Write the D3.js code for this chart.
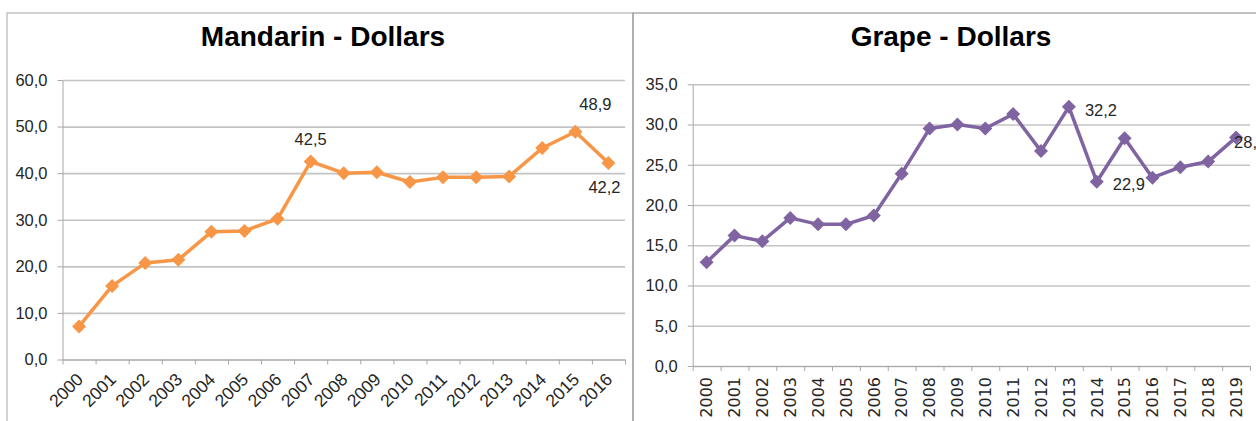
<!DOCTYPE html>
<html>
<head>
<meta charset="utf-8">
<script src="https://cdn.jsdelivr.net/npm/d3@7"></script>
<style>
    body { margin: 0; background: #fff; }
</style>
</head>
<body>
<script>
// chart values
const mandarinYears = ["2000", "2001", "2002", "2003", "2004", "2005", "2006", "2007", "2008",
    "2009", "2010", "2011", "2012", "2013", "2014", "2015", "2016"];
const mandarinValues = [7.1, 15.8, 20.7, 21.4, 27.4, 27.6, 30.2, 42.5, 40.0, 40.2, 38.1, 39.1,
    39.1, 39.3, 45.4, 48.9, 42.2];
const mandarinTicks = [0, 10, 20, 30, 40, 50, 60];
const mandarinLabels = [
    { year: "2007", place: "above" },
    { year: "2015", place: "aboveRight" },
    { year: "2016", place: "below" }
];

const grapeYears = ["2000", "2001", "2002", "2003", "2004", "2005", "2006", "2007", "2008", "2009",
    "2010", "2011", "2012", "2013", "2014", "2015", "2016", "2017", "2018", "2019"];
const grapeValues = [12.9, 16.2, 15.5, 18.4, 17.6, 17.6, 18.7, 23.9, 29.5, 30.0, 29.5, 31.3,
    26.7, 32.2, 22.9, 28.3, 23.4, 24.7, 25.4, 28.4];
const grapeTicks = [0, 5, 10, 15, 20, 25, 30, 35];
const grapeLabels = [
    { year: "2013", place: "right" },
    { year: "2014", place: "right" },
    { year: "2019", place: "onPoint" }
];

const width = 1256;
const height = 421;
const font = "'Liberation Sans', Arial, sans-serif";
const textColor = "#262626";

let svg = d3
    .select("body")
    .append("svg")
    .attr("width", width)
    .attr("height", height);

// chart frames (they run past the bottom/right of the picture)
svg.append("rect")
    .attr("x", 7).attr("y", 13)
    .attr("width", 626).attr("height", 440)
    .attr("fill", "none")
    .attr("stroke", "#b4b4b4")
    .attr("stroke-width", 1.2);

svg.append("rect")
    .attr("x", 633).attr("y", 13)
    .attr("width", 700).attr("height", 440)
    .attr("fill", "none")
    .attr("stroke", "#9a9a9a")
    .attr("stroke-width", 1.2);

let commaFormat = d => d3.format(".1f")(d).replace(".", ",");

// where a value label sits relative to its point
let labelOffsets = {
    above: { dx: 0, dy: -22, anchor: "middle" },
    aboveRight: { dx: 20, dy: -27, anchor: "middle" },
    below: { dx: -4, dy: 24, anchor: "middle" },
    right: { dx: 16, dy: 3, anchor: "start" },
    onPoint: { dx: -2, dy: 5, anchor: "start" }
};

function drawChart(cfg) {
    let g = svg.append("g");
    let m = cfg.margin;

    let xScale = d3.scaleBand()
        .domain(cfg.years)
        .range([m.left, m.right]);

    // used only for the tick marks between the categories
    let edgeScale = d3.scaleLinear()
        .domain([0, cfg.years.length])
        .range([m.left, m.right]);

    let yScale = d3.scaleLinear()
        .domain([0, d3.max(cfg.ticks)])
        .range([m.bottom, m.top]);

    let cx = d => xScale(d) + xScale.bandwidth() / 2;

    // gridlines
    let grid = g.append("g")
        .attr("transform", `translate(${m.left}, 0)`)
        .call(d3.axisLeft(yScale)
            .tickValues(cfg.ticks)
            .tickSize(-(m.right - m.left))
            .tickFormat(""));
    grid.select(".domain").remove();
    grid.selectAll("line")
        .attr("stroke", "#c4c4c4")
        .attr("stroke-width", 1.6);

    // left axis with labels
    let leftAxis = g.append("g")
        .attr("transform", `translate(${m.left}, 0)`)
        .call(d3.axisLeft(yScale)
            .tickValues(cfg.ticks)
            .tickSize(5)
            .tickSizeOuter(0)
            .tickPadding(10)
            .tickFormat(commaFormat));
    leftAxis.select(".domain").attr("stroke", "#a8a8a8");
    leftAxis.selectAll("line").attr("stroke", "#a8a8a8");
    leftAxis.selectAll("text")
        .attr("font-family", font)
        .attr("font-size", 16.5)
        .attr("fill", textColor);

    // tick marks at category edges
    let edgeAxis = g.append("g")
        .attr("transform", `translate(0, ${m.bottom})`)
        .call(d3.axisBottom(edgeScale)
            .tickValues(d3.range(cfg.years.length + 1))
            .tickSize(5)
            .tickSizeOuter(0)
            .tickFormat(""));
    edgeAxis.select(".domain").attr("stroke", "#a8a8a8");
    edgeAxis.selectAll("line").attr("stroke", "#a8a8a8");

    // category labels
    let bottomAxis = g.append("g")
        .attr("transform", `translate(0, ${m.bottom})`)
        .call(d3.axisBottom(xScale).tickSize(0));
    bottomAxis.select(".domain").remove();
    let yearText = bottomAxis.selectAll("text")
        .attr("y", 0)
        .attr("fill", textColor)
        .style("text-anchor", "end");

    if (cfg.vertical) {
        yearText
            .attr("font-family", "'DejaVu Sans', sans-serif")
            .attr("font-size", 16)
            .attr("dy", "0.36em")
            .attr("transform", "translate(0, 11) rotate(-90)");
    } else {
        yearText
            .attr("font-family", font)
            .attr("font-size", 17.5)
            .attr("dy", 0)
            .attr("transform", "translate(5, 21) rotate(-45)");
    }

    // series
    let line = d3.line()
        .x((d, i) => cx(cfg.years[i]))
        .y(d => yScale(d));

    g.append("path")
        .datum(cfg.values)
        .attr("d", line)
        .attr("fill", "none")
        .attr("stroke", cfg.color)
        .attr("stroke-width", 3.5)
        .attr("stroke-linejoin", "round");

    g.selectAll(".marker")
        .data(cfg.values)
        .join("path")
        .attr("class", "marker")
        .attr("d", d3.symbol().type(d3.symbolSquare).size(98))
        .attr("fill", cfg.color)
        .attr("transform", (d, i) => `translate(${cx(cfg.years[i])}, ${yScale(d)}) rotate(45)`);

    // value labels
    g.selectAll(".value-label")
        .data(cfg.labels)
        .join("text")
        .attr("class", "value-label")
        .attr("x", d => cx(d.year) + labelOffsets[d.place].dx)
        .attr("y", d => yScale(cfg.values[cfg.years.indexOf(d.year)]) + labelOffsets[d.place].dy)
        .attr("dy", "0.35em")
        .attr("text-anchor", d => labelOffsets[d.place].anchor)
        .attr("font-family", font)
        .attr("font-size", 16.5)
        .attr("fill", textColor)
        .text(d => commaFormat(cfg.values[cfg.years.indexOf(d.year)]));

    // title
    g.append("text")
        .attr("x", cfg.titleX)
        .attr("y", 46)
        .attr("text-anchor", "middle")
        .attr("font-family", font)
        .attr("font-weight", "bold")
        .attr("font-size", 28)
        .attr("fill", "#000")
        .text(cfg.title);
}

drawChart({
    title: "Mandarin - Dollars",
    titleX: 323,
    years: mandarinYears,
    values: mandarinValues,
    ticks: mandarinTicks,
    labels: mandarinLabels,
    color: "#f79646",
    vertical: false,
    margin: { left: 62.5, right: 625, top: 80, bottom: 359.5 }
});

drawChart({
    title: "Grape - Dollars",
    titleX: 951,
    years: grapeYears,
    values: grapeValues,
    ticks: grapeTicks,
    labels: grapeLabels,
    color: "#8064a2",
    vertical: true,
    margin: { left: 692.7, right: 1250, top: 84.3, bottom: 366 }
});
</script>
</body>
</html>
